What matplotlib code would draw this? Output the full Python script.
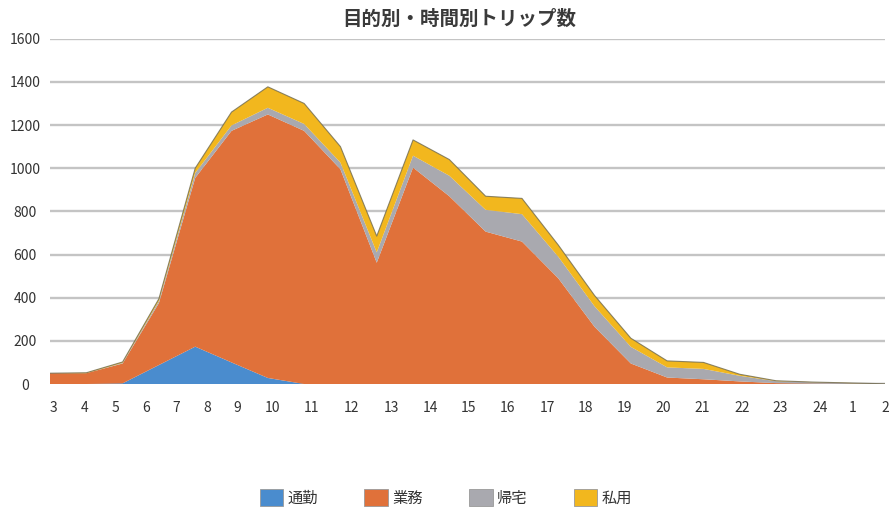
import matplotlib
matplotlib.use("Agg")
import matplotlib.pyplot as plt
import numpy as np

plt.rcParams['font.family'] = ['Noto Sans CJK JP', 'DejaVu Sans']

hours = ['3', '4', '5', '6', '7', '8', '9', '10', '11', '12', '13', '14',
         '15', '16', '17', '18', '19', '20', '21', '22', '23', '24', '1', '2']
series_names = ['通勤', '業務', '帰宅', '私用']
commute = [0, 0, 3, 88, 173, 100, 28, 0, 0, 0, 0, 0,
           0, 0, 0, 0, 0, 0, 0, 0, 0, 0, 0, 0]
business = [50, 50, 92, 287, 782, 1073, 1221, 1173, 995, 562, 1003, 870,
            706, 660, 490, 265, 95, 30, 22, 12, 4, 2, 1, 0]
home = [0, 0, 3, 10, 23, 25, 31, 32, 31, 48, 55, 95,
        101, 127, 100, 95, 77, 47, 48, 26, 9, 6, 3, 1]
private = [0, 2, 4, 10, 22, 62, 97, 95, 74, 75, 73, 75,
           63, 73, 54, 50, 40, 30, 30, 7, 2, 1, 1, 0]
title = '目的別・時間別トリップ数'

colors = ['#4A8CCE', '#E0713A', '#A9A9AF', '#F2B71E']

W, H = 889, 511
fig = plt.figure(figsize=(W / 100, H / 100), dpi=100)
ax = fig.add_axes([50 / W, (H - 384) / H, 835 / W, 345.3 / H])

x = np.arange(len(hours))
polys = ax.stackplot(x, commute, business, home, private, colors=colors,
                     labels=series_names, edgecolor='none', zorder=2)
total = np.sum([commute, business, home, private], axis=0)
ax.plot(x, total, color='#6f6a50', lw=0.8, alpha=0.8, zorder=3)

ax.set_xlim(0, len(hours) - 1)
ax.set_ylim(0, 1600)
ax.set_yticks(np.arange(0, 1601, 200))
ax.yaxis.grid(True, color='#c4c4c4', lw=1.7, zorder=0)
ax.set_axisbelow(True)
for s in ax.spines.values():
    s.set_visible(False)
ax.axhline(0, color='#c4c4c4', lw=1.7, zorder=1)

# tick label positions as they appear under the plot (fractional index)
tick_px = [53, 85, 115, 146, 176, 207, 237, 273, 312, 352, 391, 430,
           469, 508, 547, 586, 625, 663, 702, 742, 780, 820, 853, 885]
tick_pos = [(p - 50) / (835 / (len(hours) - 1)) for p in tick_px]
ax.set_xticks(tick_pos)
ax.set_xticklabels(hours)
ax.tick_params(axis='x', length=0, pad=12, labelsize=10, labelcolor='#333333')
ax.tick_params(axis='y', length=0, pad=18, labelsize=10, labelcolor='#333333')
for lab in ax.get_yticklabels():
    lab.set_horizontalalignment('center')

fig.text(459 / W, 1 - 19.5 / H, title, ha='center', va='center',
         fontsize=14, fontweight='bold', color='#3a3a3a')

leg = fig.legend(handles=polys, labels=series_names, loc='center',
                 bbox_to_anchor=(446 / W, 1 - 498 / H), ncol=4, frameon=False,
                 fontsize=11, handlelength=1.55, handleheight=1.35,
                 handletextpad=0.3, columnspacing=3.0)
for t in leg.get_texts():
    t.set_color('#333333')
for p in leg.get_patches():
    p.set_edgecolor('#999999')
    p.set_linewidth(0.6)

fig.savefig('out.png', dpi=100)
